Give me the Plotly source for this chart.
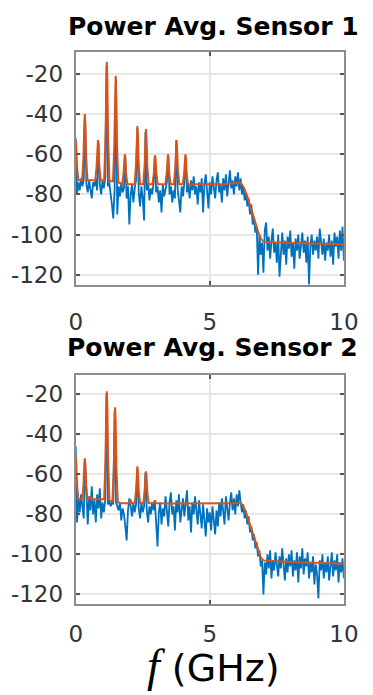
import numpy as np
import plotly.graph_objects as go

# Frequency grid of the raw spectrum (GHz)
freq = np.round(np.arange(0, 201) * 0.05, 2)

# Sensor 1: raw spectrum (dBm)
raw1 = [
    -52, -80, -74, -78, -72, -76, -73, -42, -75, -79,
    -73, -77, -82, -74, -76, -72, -78, -54, -75, -80,
    -73, -77, -72, -16, -76, -74, -79, -85, -92, -78,
    -22, -90, -76, -81, -74, -79, -77, -61, -82, -76,
    -95, -80, -75, -84, -77, -73, -47, -79, -86, -76,
    -82, -93, -49, -78, -74, -83, -77, -80, -75, -61,
    -79, -76, -84, -78, -89, -75, -81, -77, -74, -61,
    -80, -76, -84, -78, -82, -53, -77, -83, -89, -76,
    -81, -74, -61, -79, -75, -82, -73, -78, -71, -80,
    -76, -85, -74, -79, -72, -89, -75, -70, -78, -87,
    -74, -80, -71, -77, -82, -73, -69, -79, -75, -84,
    -72, -78, -70, -81, -74, -68, -77, -73, -80, -71,
    -76, -69, -78, -72, -80, -76, -83, -79, -86, -82,
    -90, -85, -95, -92, -99, -96, -120, -100, -110, -104,
    -119, -98, -94, -108, -101, -112, -103, -97, -109, -104,
    -114, -100, -121, -106, -99, -110, -103, -115, -101, -107,
    -98, -111, -104, -117, -102, -108, -100, -112, -105, -99,
    -109, -103, -114, -101, -125, -106, -100, -110, -103, -108,
    -101, -112, -97, -105, -110, -102, -113, -104, -108, -100,
    -111, -103, -115, -99, -106, -101, -112, -98, -108, -96,
    -113,
]

# Sensor 1: averaged spectrum (GHz, dBm)
avg1_f = [
    0.00, 0.02, 0.05, 0.10,
    0.24, 0.29, 0.32, 0.34, 0.36, 0.39, 0.44,
    0.73, 0.78, 0.81, 0.83, 0.85, 0.88, 0.93,
    1.06, 1.11, 1.14, 1.16, 1.18, 1.21, 1.26,
    1.39, 1.44, 1.47, 1.49, 1.51, 1.54, 1.59, 1.65,
    1.73, 1.78, 1.81, 1.83, 1.85, 1.88, 1.93,
    2.20, 2.25, 2.28, 2.30, 2.32, 2.35, 2.40,
    2.52, 2.57, 2.60, 2.62, 2.64, 2.67, 2.72,
    2.86, 2.91, 2.94, 2.96, 2.98, 3.01, 3.06,
    3.34, 3.39, 3.42, 3.44, 3.46, 3.49, 3.54,
    3.66, 3.71, 3.74, 3.76, 3.78, 3.81, 3.86,
    3.99, 4.04, 4.07, 4.09, 4.11, 4.14, 4.19,
    4.60, 5.00, 5.50, 5.90, 6.10, 6.20, 6.30, 6.40, 6.50, 6.60,
    6.70, 6.80, 6.90, 7.00, 7.20, 7.60, 8.00, 8.50, 9.00, 9.50, 10.00,
]
avg1_p = [
    -53, -56, -66, -73,
    -73, -61.5, -45, -40, -45, -61.5, -73,
    -73, -66, -56, -53, -56, -66, -73,
    -73, -52.5, -23, -14, -23, -52.5, -73.5,
    -73.5, -55, -29, -21, -29, -55, -74, -74.5,
    -75, -70, -62, -60, -62, -70, -75,
    -75, -65, -50.5, -46, -50.5, -65, -75,
    -75, -65.5, -51.5, -47.5, -51.5, -65.5, -75,
    -75, -70, -62.5, -60.5, -62.5, -70, -75,
    -75, -70, -62, -60, -62, -70, -75,
    -75, -67.5, -56.5, -53, -56.5, -67.5, -75,
    -75, -70, -62, -60, -62, -70, -75,
    -75, -75, -75, -74.5, -74, -75, -77.5, -81, -85, -89.5,
    -94, -98.5, -102, -103.5, -103.8, -104, -104.2, -104.4, -104.6, -104.8, -105,
]

# Sensor 2: raw spectrum (dBm)
raw2 = [
    -46, -84, -72, -79, -70, -76, -82, -53, -74, -85,
    -71, -78, -66, -80, -73, -84, -70, -77, -67, -82,
    -74, -79, -73, -20, -75, -73, -76, -74, -75, -28,
    -74, -76, -78, -74, -83, -77, -80, -86, -93, -78,
    -72, -76, -81, -74, -79, -75, -57, -77, -82, -74,
    -79, -76, -59, -78, -84, -76, -80, -74, -78, -73,
    -82, -96, -79, -74, -85, -77, -81, -71, -78, -86,
    -74, -69, -80, -76, -88, -73, -79, -70, -84, -77,
    -72, -81, -75, -68, -83, -76, -89, -74, -80, -71,
    -78, -85, -73, -79, -87, -75, -82, -91, -77, -84,
    -79, -88, -76, -83, -90, -78, -86, -74, -81, -72,
    -79, -85, -71, -77, -83, -74, -69, -78, -72, -80,
    -70, -76, -68, -74, -79, -75, -82, -78, -85, -81,
    -89, -86, -93, -90, -97, -94, -101, -98, -106, -103,
    -120, -104, -110, -100, -107, -98, -112, -103, -108, -99,
    -105, -111, -101, -107, -97, -104, -113, -102, -109, -100,
    -106, -98, -111, -103, -108, -99, -114, -101, -107, -97,
    -110, -102, -106, -99, -112, -104, -109, -101, -115, -105,
    -110, -122, -103, -108, -100, -112, -104, -109, -101, -113,
    -106, -99, -111, -103, -108, -100, -114, -104, -109, -102,
    -112,
]

# Sensor 2: averaged spectrum (GHz, dBm)
avg2_f = [
    0.00, 0.02, 0.05, 0.10,
    0.24, 0.29, 0.32, 0.34, 0.36, 0.39, 0.44,
    0.50, 0.55, 0.60,
    1.06, 1.11, 1.14, 1.16, 1.18, 1.21, 1.26,
    1.37, 1.42, 1.45, 1.47, 1.49, 1.52, 1.57,
    1.70, 2.00, 2.04, 2.08,
    2.20, 2.25, 2.28, 2.30, 2.32, 2.35, 2.40,
    2.52, 2.57, 2.60, 2.62, 2.64, 2.67, 2.72,
    2.90, 2.95, 3.00,
    3.50, 4.00, 4.50, 5.00, 5.50, 5.90, 6.10, 6.20, 6.30, 6.40, 6.50, 6.60,
    6.70, 6.80, 6.90, 7.00, 7.30, 7.70, 8.20, 8.70, 9.20, 9.60, 10.00,
]
avg2_p = [
    -51, -54, -65, -72.5,
    -72.5, -65.5, -55, -52, -55, -65.5, -72.5,
    -72.5, -71, -72.5,
    -72.5, -53.5, -26.5, -18.5, -26.5, -53.5, -73,
    -73.5, -57, -33.5, -26.5, -33.5, -57, -74,
    -74.5, -74.5, -72.5, -74.5,
    -74.5, -68, -59, -56, -59, -68, -74.5,
    -74.5, -69, -61, -58.5, -61, -69, -74.5,
    -74.5, -73, -74.5,
    -74.6, -74.6, -74.6, -74.7, -74.7, -74.6, -74.4, -75, -77.5, -81, -85, -89.5,
    -94, -98, -101.5, -103, -103.3, -103.6, -103.9, -104.1, -104.3, -104.5, -104.7,
]

titles = ["Power Avg. Sensor 1", "Power Avg. Sensor 2"]
x_ticks = [0, 5, 10]
y_ticks = [-120, -100, -80, -60, -40, -20]

BLUE = "#0072BD"
ORANGE = "#D95319"
W, H = 373, 695

# Panel boxes in pixels: (left, right, top, bottom), y range, tick label standoff
panels = [
    dict(box=(73, 358, 52, 286), yr=[-125, -9], xstand=16),
    dict(box=(73, 358, 377, 607), yr=[-125, -10.5], xstand=8),
]

fig = go.Figure()
series = [(raw1, avg1_f, avg1_p), (raw2, avg2_f, avg2_p)]

for k, (raw, af, ap) in enumerate(series):
    n = "" if k == 0 else str(k + 1)
    fig.add_trace(go.Scatter(x=freq, y=raw, mode="lines",
                             line=dict(color=BLUE, width=1.8),
                             xaxis="x" + n, yaxis="y" + n, showlegend=False))
    fig.add_trace(go.Scatter(x=af, y=ap, mode="lines",
                             line=dict(color=ORANGE, width=2),
                             xaxis="x" + n, yaxis="y" + n, showlegend=False))

axis_common = dict(
    showline=True, linecolor="#8c8c8c", linewidth=2, mirror="ticks",
    ticks="inside", ticklen=4, tickwidth=1.5, tickcolor="#555555",
    showgrid=True, gridcolor="#e6e6e6", gridwidth=1.5, zeroline=False,
    tickfont=dict(family="DejaVu Sans", size=23, color="#333333"),
)

layout = dict(width=W, height=H, margin=dict(l=0, r=0, t=0, b=0),
              paper_bgcolor="white", plot_bgcolor="white",
              font=dict(family="DejaVu Sans"), annotations=[])

for k, p in enumerate(panels):
    l, r, t, b = p["box"]
    n = "" if k == 0 else str(k + 1)
    layout["xaxis" + n] = dict(
        axis_common, domain=[l / W, r / W], range=[0, 10],
        tickvals=x_ticks, ticktext=[str(v) for v in x_ticks],
        anchor="y" + n, ticklabelstandoff=p["xstand"])
    layout["yaxis" + n] = dict(
        axis_common, domain=[1 - b / H, 1 - t / H], range=p["yr"],
        tickvals=y_ticks, ticktext=[str(v) for v in y_ticks],
        anchor="x" + n, ticklabelstandoff=6)

layout["annotations"].append(dict(
    text="<b>" + titles[0] + "</b>", x=219 / W, y=1 - 27 / H,
    xref="paper", yref="paper", xanchor="center", yanchor="middle",
    showarrow=False, font=dict(family="DejaVu Sans", size=25, color="black")))
layout["annotations"].append(dict(
    text="<b>" + titles[1] + "</b>", x=218 / W, y=1 - 349 / H,
    xref="paper", yref="paper", xanchor="center", yanchor="middle",
    showarrow=False, font=dict(family="DejaVu Sans", size=25, color="black")))
layout["annotations"].append(dict(
    text="<span style='font-family:Liberation Serif;font-size:46px'><i>f</i></span> (GHz)",
    x=219 / W, y=1 - 668 / H, xref="paper", yref="paper",
    xanchor="center", yanchor="middle", showarrow=False,
    font=dict(family="DejaVu Sans", size=38, color="black")))

fig.update_layout(**layout)
fig.write_html("out.html")
